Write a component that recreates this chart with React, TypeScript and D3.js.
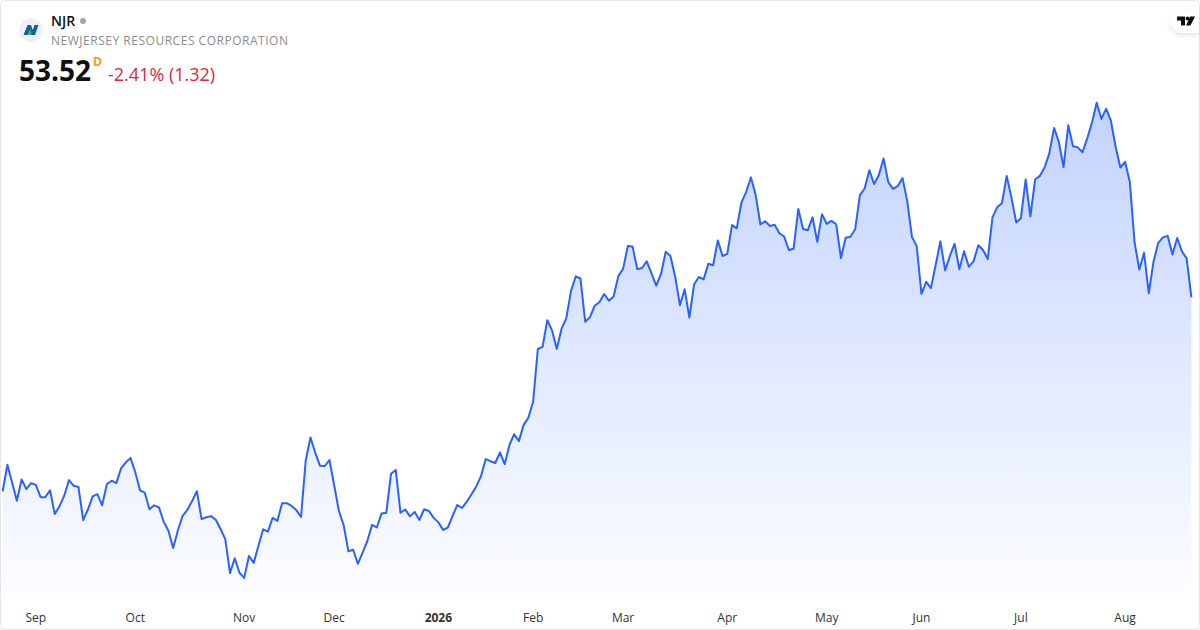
import React from "react";
import * as d3 from "d3";

const closes = [
  47.06, 47.94, 47.34, 46.74, 47.45, 47.13, 47.33, 47.27, 46.86, 46.86, 47.09, 46.3, 46.56, 46.91, 47.43, 47.24,
  47.2, 46.1, 46.45, 46.89, 46.96, 46.59, 47.29, 47.41, 47.33, 47.82, 48.02, 48.17, 47.69, 47.09, 47.01, 46.46,
  46.59, 46.52, 46.04, 45.74, 45.17, 45.76, 46.24, 46.44, 46.73, 47.06, 46.13, 46.19, 46.23, 46.11, 45.8, 45.46,
  44.33, 44.82, 44.34, 44.17, 44.9, 44.67, 45.23, 45.79, 45.71, 46.17, 46.07, 46.66, 46.66, 46.57, 46.43, 46.2,
  48.1, 48.85, 48.34, 47.91, 47.9, 48.1, 47.26, 46.4, 45.93, 45.06, 45.11, 44.64, 45.01, 45.4, 45.94, 45.85,
  46.32, 46.34, 47.64, 47.77, 46.34, 46.45, 46.22, 46.37, 46.1, 46.46, 46.4, 46.17, 46.02, 45.77, 45.85, 46.24,
  46.6, 46.5, 46.71, 46.96, 47.22, 47.56, 48.13, 48.06, 48.0, 48.35, 47.96, 48.6, 48.96, 48.73, 49.27, 49.51,
  50.04, 51.8, 51.87, 52.76, 52.42, 51.8, 52.47, 52.82, 53.73, 54.22, 54.15, 52.71, 52.86, 53.24, 53.36, 53.63,
  53.41, 53.55, 54.23, 54.47, 55.23, 55.22, 54.46, 54.5, 54.72, 54.32, 53.91, 54.3, 55.04, 54.9, 54.21, 53.26,
  53.79, 52.85, 53.96, 54.2, 54.12, 54.64, 54.59, 55.42, 54.9, 54.97, 55.93, 55.82, 56.69, 57.04, 57.52, 56.93,
  55.95, 56.06, 55.9, 55.94, 55.66, 55.55, 55.1, 55.14, 56.47, 55.8, 55.76, 56.19, 55.37, 56.29, 55.97, 56.07,
  55.96, 54.83, 55.51, 55.54, 55.79, 56.92, 57.15, 57.76, 57.3, 57.6, 58.15, 57.36, 57.14, 57.23, 57.5, 56.73,
  55.53, 55.23, 53.64, 54.04, 53.83, 54.6, 55.39, 54.42, 54.9, 55.31, 54.46, 55.06, 54.54, 54.72, 55.26, 55.1,
  54.8, 56.19, 56.53, 56.66, 57.57, 56.85, 56.02, 56.16, 57.45, 56.22, 57.45, 57.57, 57.85, 58.32, 59.17, 58.71,
  57.86, 59.26, 58.56, 58.52, 58.36, 58.82, 59.34, 60.01, 59.47, 59.81, 59.41, 58.54, 57.85, 58.04, 57.37, 55.35,
  54.45, 55.01, 53.66, 54.71, 55.34, 55.52, 55.57, 54.95, 55.5, 55.05, 54.82, 53.52,
];

// month labels and the trading day each one sits on
const tickLabels = ["Sep", "Oct", "Nov", "Dec", "2026", "Feb", "Mar", "Apr", "May", "Jun", "Jul", "Aug"];
const tickDays = [7, 28, 51, 70, 92, 112, 131, 153, 174, 194, 215, 237];

const width = 1200;
const height = 630;
const font = "'Open Sans', sans-serif";
const lineColor = "#2962ff";

export default function App() {
  const x = d3.scaleLinear().domain([0, closes.length - 1]).range([2.67, 1191.4]);
  const y = d3.scaleLinear().domain([43, 61]).range([613, 73]);

  const line = d3.line<number>().x((_, i) => x(i)).y((d) => y(d));
  const area = d3.area<number>().x((_, i) => x(i)).y0(600).y1((d) => y(d));

  return (
    <svg width={width} height={height} style={{ position: "absolute", left: 0, top: 0 }}>
      <defs>
        <linearGradient id="fill" gradientUnits="userSpaceOnUse" x1={0} y1={y(d3.max(closes)!)} x2={0} y2={600}>
          <stop offset="0" stopColor={lineColor} stopOpacity={0.28} />
          <stop offset="1" stopColor={lineColor} stopOpacity={0.01} />
        </linearGradient>
        <filter id="pill" x="-50%" y="-50%" width="200%" height="200%">
          <feDropShadow dx={0} dy={2} stdDeviation={2.5} floodColor="#000" floodOpacity={0.12} />
        </filter>
      </defs>
      <rect x={0.5} y={0.5} width={width - 1} height={height - 1} rx={4} fill="#fff" stroke="#e6e6e6" />

      <path d={area(closes)!} fill="url(#fill)" />
      <path d={line(closes)!} fill="none" stroke={lineColor} strokeWidth={2} strokeLinejoin="round" />

      {tickLabels.map((label, i) => (
        <text
          key={label}
          x={x(tickDays[i])}
          y={622}
          textAnchor="middle"
          fontFamily={font}
          fontSize={12}
          fontWeight={label === "2026" ? 700 : 400}
          fill="#333333"
        >
          {label}
        </text>
      ))}

      {/* header */}
      <circle cx={31} cy={30} r={12} fill="#eef2f8" />
      <path d="M23.5 35 L27.5 25 H31 L32.8 30 L34.5 25 H38.5 L35 35 H31.5 L30 30.5 L28 35 Z" fill="#17609f" />
      <path d="M30.2 28 L32 35 H28.8 Z" fill="#3aa655" />
      <text x={51} y={26} fontFamily={font} fontSize={14} fontWeight={600} fill="#0f0f0f">NJR</text>
      <circle cx={83} cy={21} r={3} fill="#a3a3a3" />
      <text x={51} y={45} fontFamily={font} fontSize={12} letterSpacing={0.52} fill="#8c8c8c">
        NEWJERSEY RESOURCES CORPORATION
      </text>
      <text x={19} y={81} fontFamily={font} fontSize={28} fontWeight={700} fill="#0f0f0f">53.52</text>
      <text x={93} y={66} fontFamily={font} fontSize={12} fontWeight={700} fill="#ff9800">D</text>
      <text x={108} y={81} fontFamily={font} fontSize={18} fill="#d8283f">-2.41% (1.32)</text>

      {/* logo pill */}
      <path d="M1199 11 H1182 A11 11 0 0 0 1182 33 H1199 Z" fill="#fff" filter="url(#pill)" />
      <path d="M1177 16.5 H1185 V25.5 H1181 V20.5 H1177 Z M1190 16.5 H1195 L1190.5 25.5 H1186 Z" fill="#0f0f0f" />
      <circle cx={1187.5} cy={18.5} r={1.9} fill="#0f0f0f" />
    </svg>
  );
}
